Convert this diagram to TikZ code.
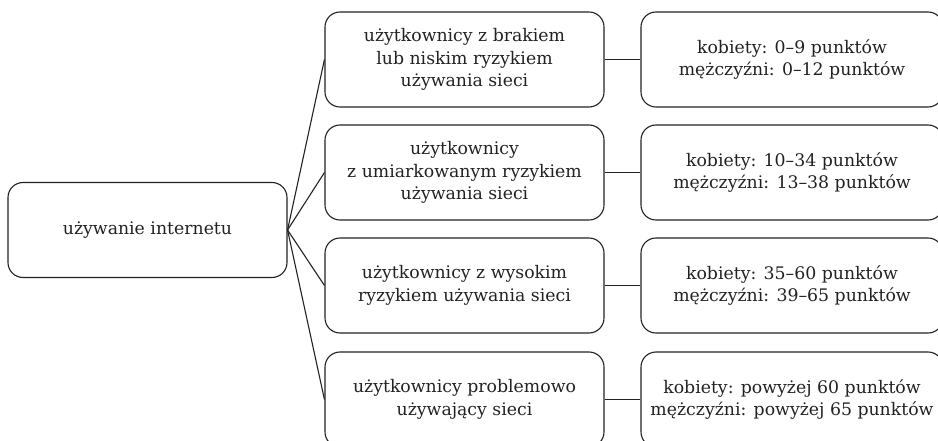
\documentclass[tikz,border=0pt]{standalone}
\usepackage{fontspec}
\setmainfont{DejaVu Serif}
\definecolor{ink}{HTML}{222222}
\tikzset{
  box/.style={draw=ink, line width=1.1pt, rounded corners=15pt, align=center,
    inner sep=0pt, minimum height=95pt, text=ink,
    font=\fontsize{17.3}{22.5}\selectfont},
  rootbox/.style={box, minimum width=279pt},
  groupbox/.style={box, minimum width=279pt},
  scorebox/.style={box, minimum width=302pt},
  link/.style={draw=ink, line width=1.1pt}
}
\begin{document}
\begin{tikzpicture}[x=1pt,y=-1pt]
  \useasboundingbox (0,0) rectangle (938,441);
  \clip (0,0) rectangle (938,441);

  % root
  \node[rootbox] (root) at (147.5,230) {używanie internetu};

  % risk groups
  \node[groupbox] (g1) at (464.5,59.5)  {użytkownicy z brakiem\\lub niskim ryzykiem\\używania sieci};
  \node[groupbox] (g2) at (464.5,172.5) {użytkownicy\\z umiarkowanym ryzykiem\\używania sieci};
  \node[groupbox] (g3) at (464.5,285.5) {użytkownicy z wysokim\\ryzykiem używania sieci};
  \node[groupbox] (g4) at (464.5,399.5) {użytkownicy problemowo\\używający sieci};

  % score ranges
  \node[scorebox] (s1) at (792,59.5)  {kobiety: 0–9 punktów\\mężczyźni: 0–12 punktów};
  \node[scorebox] (s2) at (792,172.5) {kobiety: 10–34 punktów\\mężczyźni: 13–38 punktów};
  \node[scorebox] (s3) at (792,285.5) {kobiety: 35–60 punktów\\mężczyźni: 39–65 punktów};
  \node[scorebox] (s4) at (792,399.5) {kobiety: powyżej 60 punktów\\mężczyźni: powyżej 65 punktów};

  % connectors
  \foreach \i in {1,...,4} {
    \draw[link] (root.east) -- (g\i.west);
    \draw[link] (g\i.east) -- (s\i.west);
  }
\end{tikzpicture}
\end{document}
